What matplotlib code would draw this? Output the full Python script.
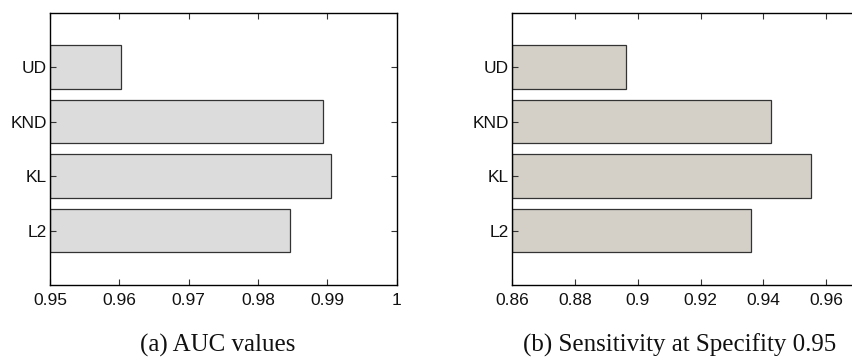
import matplotlib
matplotlib.use("Agg")
import matplotlib.pyplot as plt

categories = ["L2", "KL", "KND", "UD"]
auc_values = [0.9846, 0.9905, 0.9893, 0.9603]
sens_values = [0.936, 0.9552, 0.9425, 0.8962]
auc_ticks = [0.95, 0.96, 0.97, 0.98, 0.99, 1.0]
auc_ticklabels = ["0.95", "0.96", "0.97", "0.98", "0.99", "1"]
sens_ticks = [0.86, 0.88, 0.90, 0.92, 0.94, 0.96]
sens_ticklabels = ["0.86", "0.88", "0.9", "0.92", "0.94", "0.96"]
captions = ["(a) AUC values", "(b) Sensitivity at Specifity 0.95"]

W, H = 852, 360
fig = plt.figure(figsize=(W / 100, H / 100), dpi=100)

sans = ["Liberation Sans", "DejaVu Sans"]
serif = ["Liberation Serif", "DejaVu Serif"]

def setup(ax, values, color, xlim, ticks, ticklabels):
    pos = list(range(1, len(categories) + 1))
    ax.barh(pos, [v - xlim[0] for v in values], left=xlim[0], height=0.8,
            color=color, edgecolor="#333333", linewidth=0.9)
    ax.set_xlim(*xlim)
    ax.set_ylim(0, 5)
    ax.set_yticks(pos)
    ax.set_yticklabels(categories, family=sans, fontsize=12.5, color="#111111")
    ax.set_xticks(ticks)
    ax.set_xticklabels(ticklabels, family=sans, fontsize=12.5, color="#111111")
    ax.tick_params(direction="in", top=True, right=True, length=4, width=0.8,
                   pad=6, color="#333333")
    ax.tick_params(axis="y", pad=2)
    for s in ax.spines.values():
        s.set_linewidth(1.0)
        s.set_color("black")

ax1 = fig.add_axes([50 / W, 75 / H, 346.7 / W, 272.3 / H])
setup(ax1, auc_values, "#dcdcdc", (0.95, 1.0), auc_ticks, auc_ticklabels)

ax2 = fig.add_axes([512 / W, 75 / H, 377 / W, 272.3 / H])
setup(ax2, sens_values, "#d4d0c8", (0.86, 0.98), sens_ticks, sens_ticklabels)

fig.text(218 / W, 15 / H, captions[0], ha="center", va="center",
         family=serif, fontsize=18, color="#111111")
fig.text(680 / W, 15 / H, captions[1], ha="center", va="center",
         family=serif, fontsize=18, color="#111111")

fig.savefig("out.png", dpi=100)
